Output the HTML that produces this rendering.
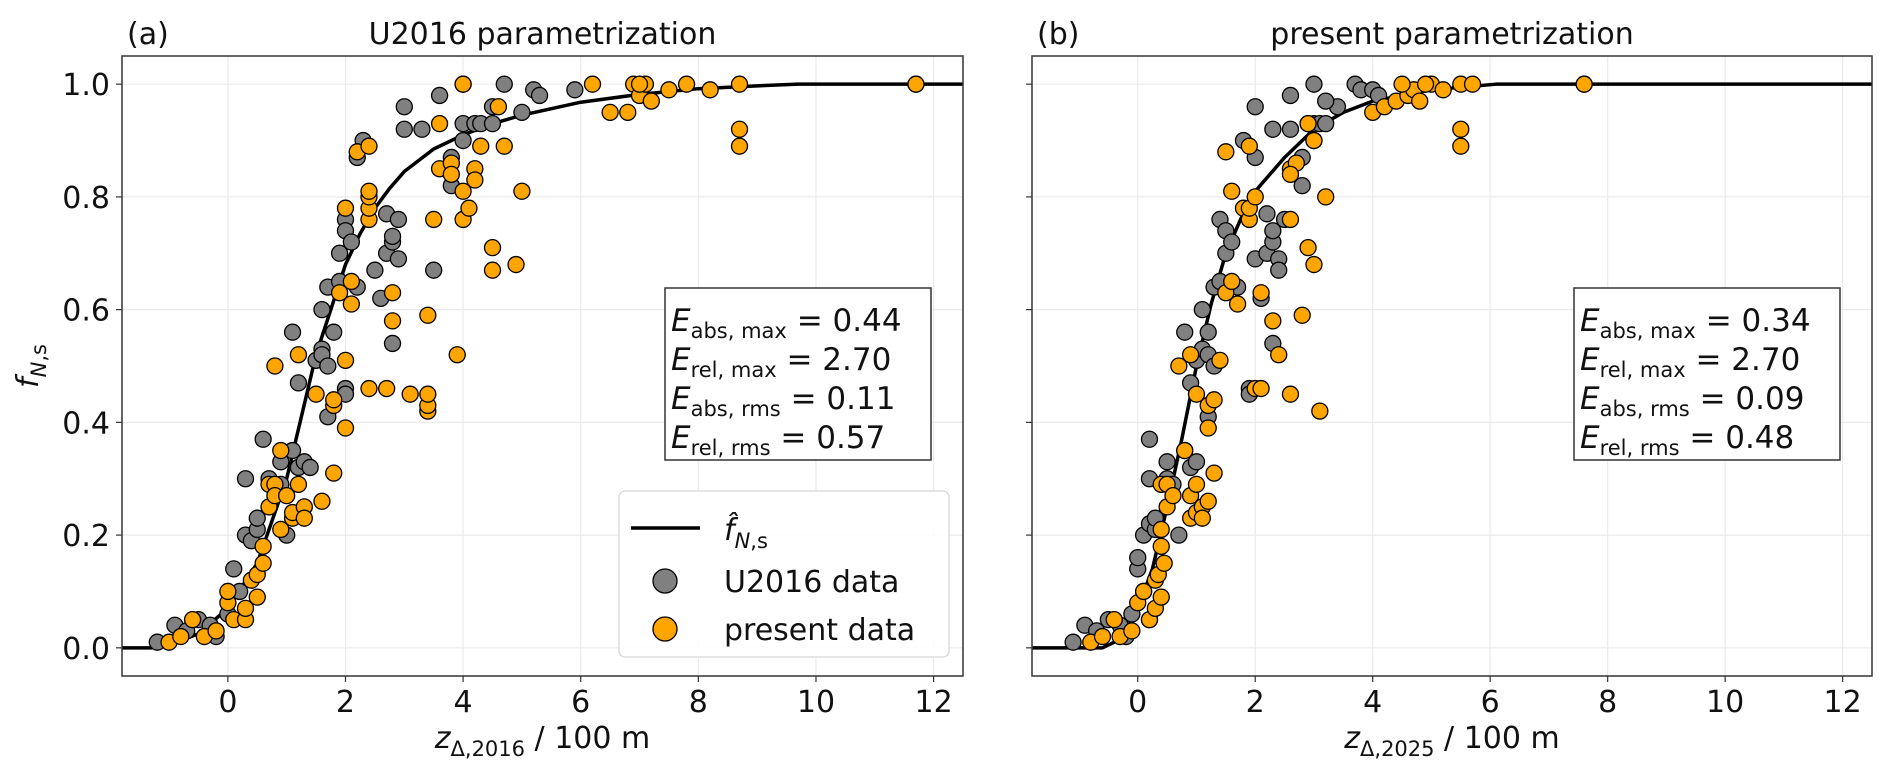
<!DOCTYPE html>
<html><head><meta charset="utf-8">
<style>
body{margin:0;background:#fff;}
svg{display:block;font-family:"DejaVu Sans","Liberation Sans",sans-serif;}
</style></head>
<body>
<svg id="fig" width="1892" height="775" viewBox="0 0 1892 775" xmlns="http://www.w3.org/2000/svg"></svg>
<script>
// ---------- data ----------
const xTicks = [0,2,4,6,8,10,12];
const yTicks = [0.0,0.2,0.4,0.6,0.8,1.0];
const yTickLabels = ["0.0","0.2","0.4","0.6","0.8","1.0"];
const xTickLabels = ["0","2","4","6","8","10","12"];

const curveAX = [-1.8,-1.3,-1.0,-0.5,0,0.5,1,1.5,2,2.25,2.5,2.75,3,3.5,4,4.5,5,6,7,8,9,9.7,12.5];
const curveAY = [0,0,0.005,0.025,0.07,0.15,0.3,0.52,0.68,0.735,0.78,0.815,0.845,0.885,0.91,0.93,0.945,0.968,0.982,0.992,0.997,1.0,1.0];
const curveBX = [-1.8,-0.6,-0.4,-0.2,0,0.25,0.5,0.75,1,1.25,1.5,1.75,2,2.5,3,3.5,4,5,6.1,12.5];
const curveBY = [0,0,0.01,0.03,0.07,0.14,0.25,0.37,0.5,0.61,0.7,0.76,0.81,0.87,0.92,0.95,0.97,0.99,1.0,1.0];

const grayAX = [-1.2,-0.9,-0.7,-0.5,-0.3,-0.2,0,0.1,0.2,0.3,0.3,0.4,0.5,0.5,0.6,0.7,0.9,0.9,1.0,1.1,1.2,1.1,1.2,1.3,1.4,1.5,1.6,1.6,1.6,1.7,1.7,1.8,1.7,1.9,1.9,2.0,2.0,2.1,2.2,2.0,2.0,2.2,2.3,2.5,2.6,2.7,2.8,2.8,2.7,2.9,2.8,2.9,3.0,3.0,3.3,3.5,3.6,3.8,3.8,4.0,4.0,4.2,4.3,4.5,4.5,4.7,5.0,5.2,5.3,5.9,4.0,11.7];
const grayAY = [0.01,0.04,0.03,0.05,0.04,0.02,0.06,0.14,0.1,0.2,0.3,0.19,0.21,0.23,0.37,0.3,0.33,0.29,0.2,0.35,0.32,0.56,0.47,0.33,0.32,0.51,0.6,0.53,0.52,0.41,0.5,0.56,0.64,0.65,0.7,0.76,0.74,0.72,0.64,0.46,0.45,0.87,0.9,0.67,0.62,0.7,0.72,0.73,0.77,0.76,0.54,0.69,0.96,0.92,0.92,0.67,0.98,0.82,0.87,0.9,0.93,0.93,0.93,0.96,0.93,1.0,0.95,0.99,0.98,0.99,1.0,1.0];
const orangeAX = [-1.0,-0.8,-0.6,-0.4,-0.2,0,0,0.1,0.3,0.3,0.4,0.5,0.5,0.6,0.6,0.7,0.7,0.8,0.8,0.8,0.9,0.9,1.0,1.1,1.1,1.2,1.3,1.3,1.6,1.8,1.2,1.5,1.8,1.8,2.0,2.0,1.9,2.1,2.1,2.0,2.2,2.4,2.4,2.4,2.4,2.4,2.4,2.7,2.8,2.8,3.1,3.4,3.4,3.4,3.6,3.6,3.8,3.8,3.5,3.4,3.9,4.0,4.1,4.0,4.2,4.2,4.3,4.5,4.5,4.7,4.6,4.9,5.0,4.0,6.5,6.8,6.9,7.0,7.1,7.2,7.5,7.8,8.2,8.7,8.7,8.7,11.7,6.2,7.0];
const orangeAY = [0.01,0.02,0.05,0.02,0.03,0.08,0.1,0.05,0.05,0.07,0.12,0.13,0.09,0.18,0.15,0.29,0.25,0.29,0.27,0.5,0.35,0.21,0.27,0.23,0.24,0.29,0.25,0.23,0.26,0.31,0.52,0.45,0.43,0.44,0.39,0.51,0.63,0.65,0.61,0.78,0.88,0.89,0.76,0.78,0.8,0.81,0.46,0.46,0.63,0.58,0.45,0.42,0.43,0.59,0.93,0.85,0.86,0.84,0.76,0.45,0.52,0.76,0.78,0.81,0.85,0.83,0.89,0.71,0.67,0.89,0.96,0.68,0.81,1.0,0.95,0.95,1.0,0.98,1.0,0.97,0.99,1.0,0.99,1.0,0.92,0.89,1.0,1.0,1.0];

const grayBX = [-1.1,-0.9,-0.7,-0.5,-0.3,-0.2,-0.1,0,0,0.1,0.1,0.2,0.2,0.3,0.3,0.2,0.5,0.5,0.6,0.7,0.8,0.8,0.9,0.9,1.0,1.0,1.1,1.1,1.2,1.2,1.3,1.2,1.3,1.4,1.5,1.4,1.5,1.6,1.7,1.9,1.9,2.0,1.8,2.0,2.1,2.2,2.3,2.3,2.2,2.5,2.3,2.4,2.0,2.3,2.6,2.4,2.6,2.8,2.8,3.0,3.0,3.1,3.2,3.4,3.2,3.7,3.8,4.0,4.1,3.0,7.6];
const grayBY = [0.01,0.04,0.03,0.05,0.04,0.02,0.06,0.14,0.16,0.1,0.2,0.3,0.22,0.21,0.23,0.37,0.3,0.33,0.29,0.2,0.56,0.35,0.47,0.32,0.33,0.51,0.6,0.53,0.52,0.41,0.5,0.56,0.64,0.65,0.7,0.76,0.74,0.72,0.64,0.46,0.45,0.87,0.9,0.69,0.62,0.7,0.72,0.74,0.77,0.76,0.54,0.69,0.96,0.92,0.92,0.67,0.98,0.82,0.87,0.9,0.93,0.93,0.93,0.96,0.97,1.0,0.99,0.99,0.98,1.0,1.0];
const orangeBX = [-0.8,-0.6,-0.4,-0.3,-0.1,0,0.1,0.2,0.2,0.3,0.3,0.35,0.4,0.4,0.45,0.4,0.5,0.5,0.6,0.7,0.8,0.4,0.9,0.9,1.0,1.0,1.1,1.1,1.2,1.3,0.9,1.0,1.2,1.3,1.2,1.4,1.5,1.6,1.7,1.8,1.5,1.9,1.9,1.9,2.0,1.6,2.0,2.1,2.1,2.3,2.6,3.1,3.0,2.8,2.9,2.6,2.7,2.6,2.6,2.9,3.2,3.0,2.9,2.4,4.0,4.2,4.4,4.6,4.7,4.8,5.0,5.2,5.5,5.5,5.5,7.6,4.5,5.7,4.9];
const orangeBY = [0.01,0.02,0.05,0.02,0.03,0.08,0.1,0.05,0.05,0.07,0.12,0.13,0.09,0.18,0.15,0.29,0.25,0.29,0.27,0.5,0.35,0.21,0.27,0.23,0.24,0.29,0.25,0.23,0.26,0.31,0.52,0.45,0.43,0.44,0.39,0.51,0.63,0.65,0.61,0.78,0.88,0.89,0.76,0.78,0.8,0.81,0.46,0.46,0.63,0.58,0.45,0.42,0.68,0.59,0.93,0.85,0.86,0.84,0.76,0.71,0.8,0.9,0.93,0.52,0.95,0.96,0.97,0.98,0.99,0.97,1.0,0.99,0.92,0.89,1.0,1.0,1.0,1.0,1.0];

// ---------- layout ----------
const NS = "http://www.w3.org/2000/svg";
const svg = document.getElementById('fig');
const XMIN=-1.8, XMAX=12.5, YMIN=-0.05, YMAX=1.05;
const TOP=56, BOT=676;
function mk(tag, attrs, parent){
  const e=document.createElementNS(NS,tag);
  for(const k in attrs) e.setAttribute(k,attrs[k]);
  (parent||svg).appendChild(e); return e;
}
function panel(left,right,id,title,letter,cx,cy,gx,gy,ox,oy,stats,xsub,showYLabels,legend){
  const g=mk('g',{});
  
  
  const sx=v=>left+(v-XMIN)/(XMAX-XMIN)*(right-left);
  const sy=v=>BOT-(v-YMIN)/(YMAX-YMIN)*(BOT-TOP);
  xTicks.forEach((t,i)=>{
    const l=mk('line',{x1:sx(t),x2:sx(t),y1:TOP,y2:BOT,stroke:'#ebebeb','stroke-width':1.2},g);
    
    
    mk('line',{x1:sx(t),x2:sx(t),y1:BOT,y2:BOT+6,stroke:'#333','stroke-width':1.2},g);
    const tx=mk('text',{x:sx(t),y:BOT+36,'font-size':30,'text-anchor':'middle',fill:'#111'},g);
    tx.textContent=xTickLabels[i];
    
    
  });
  yTicks.forEach((t,i)=>{
    const l=mk('line',{x1:left,x2:right,y1:sy(t),y2:sy(t),stroke:'#ebebeb','stroke-width':1.2},g);
    
    
    mk('line',{x1:left-6,x2:left,y1:sy(t),y2:sy(t),stroke:'#333','stroke-width':1.2},g);
    if(showYLabels){
      const tx=mk('text',{x:left-12,y:sy(t)+11,'font-size':30,'text-anchor':'end',fill:'#111'},g);
      tx.textContent=yTickLabels[i];
      
      
    }
  });
  const pts=cx.map((x,i)=>sx(x)+','+sy(cy[i])).join(' ');
  const cl=mk('polyline',{points:pts,fill:'none',stroke:'#000','stroke-width':3.5,'stroke-linejoin':'round'},g);
  
  
  gx.forEach((x,i)=>{
    const c=mk('circle',{cx:sx(x),cy:sy(gy[i]),r:8,fill:'#808080',stroke:'#000','stroke-width':1.3},g);
    
    
  });
  ox.forEach((x,i)=>{
    const c=mk('circle',{cx:sx(x),cy:sy(oy[i]),r:8,fill:'#FFA500',stroke:'#000','stroke-width':1.3},g);
    
    
  });
  const fr=mk('rect',{x:left,y:TOP,width:right-left,height:BOT-TOP,fill:'none',stroke:'#333','stroke-width':1.5},g);
  
  
  const tt=mk('text',{x:(left+right)/2,y:44,'font-size':30,'text-anchor':'middle',fill:'#111'},g);
  tt.textContent=title;
  
  
  const lt=mk('text',{x:left+5,y:44,'font-size':30,fill:'#111'},g);
  lt.textContent=letter;
  
  
  const xl=mk('text',{x:(left+right)/2,y:748,'font-size':30,'text-anchor':'middle',fill:'#111'},g);
  xl.innerHTML='<tspan font-style="italic">z</tspan><tspan font-size="21" dy="8">Δ,'+xsub+'</tspan><tspan dy="-8"> / 100 m</tspan>';
  
  
  const bx=right-298, bw=266;
  const sb=mk('rect',{x:bx,y:288,width:bw,height:172,fill:'#fff',stroke:'#333','stroke-width':1.5},g);
  
  
  const labs=[['abs, max','= '+stats[0]],['rel, max',' = '+stats[1]],['abs, rms','= '+stats[2]],['rel, rms','= '+stats[3]]];
  labs.forEach((l,i)=>{
    const t=mk('text',{x:bx+6,y:331+i*39,'font-size':31,fill:'#111'},g);
    t.innerHTML='<tspan font-style="italic">E</tspan><tspan font-size="21" dy="7">'+l[0]+'</tspan><tspan dy="-7"> '+l[1]+'</tspan>';
    
    
  });
  if(legend){
    const lg=mk('g',{},g);
    
    
    mk('rect',{x:619,y:491,width:330,height:166,rx:6,fill:'#fff','fill-opacity':0.85,stroke:'#ddd','stroke-width':1.5},lg);
    mk('line',{x1:631,x2:700,y1:528,y2:528,stroke:'#000','stroke-width':3.5},lg);
    const t1=mk('text',{x:724,y:540,'font-size':30,fill:'#111'},lg);
    t1.innerHTML='<tspan font-style="italic">f̂</tspan><tspan font-size="21" dy="8" font-style="italic">N</tspan><tspan font-size="21">,s</tspan>';
    
    
    mk('circle',{cx:665,cy:581,r:12,fill:'#808080',stroke:'#000','stroke-width':1.3},lg);
    const t2=mk('text',{x:724,y:592,'font-size':30,fill:'#111'},lg);
    t2.textContent='U2016 data';
    
    
    mk('circle',{cx:665,cy:629,r:12,fill:'#FFA500',stroke:'#000','stroke-width':1.3},lg);
    const t3=mk('text',{x:724,y:640,'font-size':30,fill:'#111'},lg);
    t3.textContent='present data';
    
    
  }
}
panel(122,963,'a','U2016 parametrization','(a)',curveAX,curveAY,grayAX,grayAY,orangeAX,orangeAY,['0.44','2.70','0.11','0.57'],'2016',true,true);
panel(1032,1872,'b','present parametrization','(b)',curveBX,curveBY,grayBX,grayBY,orangeBX,orangeBY,['0.34','2.70','0.09','0.48'],'2025',false,false);
const yl=mk('text',{x:0,y:0,'font-size':30,'text-anchor':'middle',fill:'#111',transform:'translate(38,366) rotate(-90)'});
yl.innerHTML='<tspan font-style="italic">f</tspan><tspan font-size="21" dy="8" font-style="italic">N</tspan><tspan font-size="21">,s</tspan>';


</script>
</body></html>
